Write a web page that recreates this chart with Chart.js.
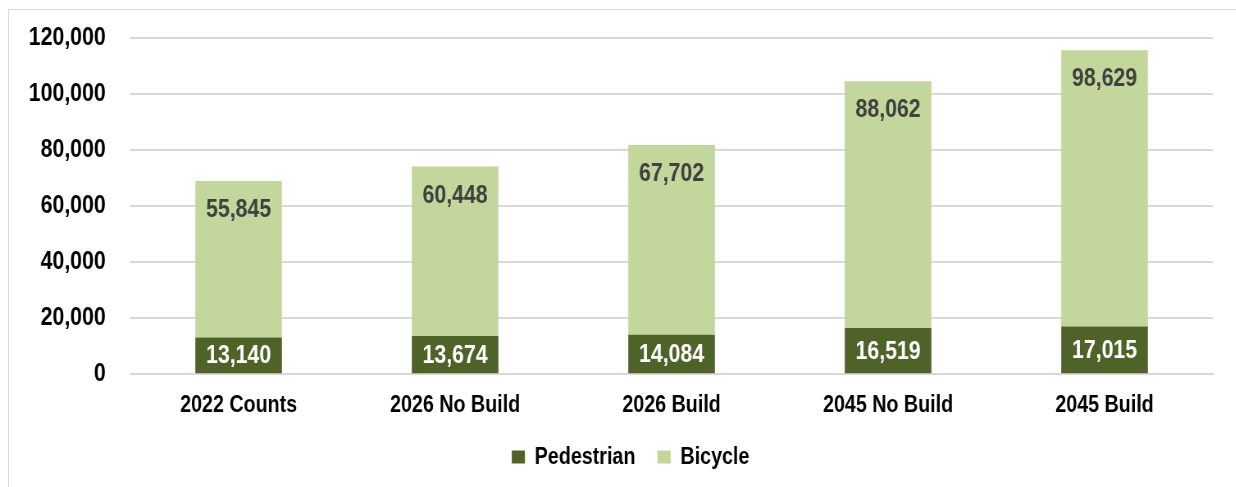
<!DOCTYPE html>
<html>
<head>
<meta charset="utf-8">
<script src="https://cdn.jsdelivr.net/npm/chart.js@4.4.1/dist/chart.umd.min.js"></script>
<style>
  html, body { margin: 0; padding: 0; background: #fff; overflow: hidden; }
  #frame { position: absolute; left: 8px; top: 9px; width: 1240px; height: 490px; border: 1px solid #d9d9d9; }
  /* o canvas é desenhado mais largo e comprimido na horizontal, para imitar a fonte estreita */
  #grafico { position: absolute; left: 0; top: 0; transform: scaleX(0.82); transform-origin: 0 0; }
</style>
</head>
<body>
<div id="frame"></div>
<canvas id="grafico" width="1507" height="487"></canvas>
<script>
const categorias = ['2022 Counts', '2026 No Build', '2026 Build', '2045 No Build', '2045 Build'];
const pedestres = [13140, 13674, 14084, 16519, 17015];
const bicicletas = [55845, 60448, 67702, 88062, 98629];
const ticksY = [0, 20000, 40000, 60000, 80000, 100000, 120000];

const fonte = "'Liberation Sans', Arial, sans-serif";

// desenha os rótulos dos valores dentro das barras
const rotulos = {
    id: 'rotulos',
    afterDatasetsDraw(chart) {
        const ctx = chart.ctx;
        ctx.save();
        ctx.font = 'bold 26px ' + fonte;
        ctx.textAlign = 'center';
        ctx.textBaseline = 'middle';
        chart.data.datasets.forEach((ds, i) => {
            const meta = chart.getDatasetMeta(i);
            meta.data.forEach((bar, j) => {
                const texto = ds.data[j].toLocaleString('en-US');
                if (i === 0) {
                    ctx.fillStyle = '#ffffff';
                    ctx.fillText(texto, bar.x, (bar.y + bar.base) / 2 + 1);
                } else {
                    ctx.fillStyle = '#404040';
                    ctx.fillText(texto, bar.x, bar.y + 29);
                }
            });
        });
        ctx.restore();
    }
};

// empurra a legenda um pouco para a direita
const ajusteLegenda = {
    id: 'ajusteLegenda',
    afterLayout(chart) {
        chart.legend.left += 27;
        chart.legend.right += 27;
    }
};

new Chart(document.getElementById('grafico').getContext('2d'), {
    type: 'bar',
    data: {
        labels: categorias,
        datasets: [
            { label: 'Pedestrian', data: pedestres, backgroundColor: '#4f6228', categoryPercentage: 1, barPercentage: 0.4 },
            { label: 'Bicycle', data: bicicletas, backgroundColor: '#c3d69b', categoryPercentage: 1, barPercentage: 0.4 }
        ]
    },
    options: {
        responsive: false,
        animation: false,
        devicePixelRatio: 1,
        layout: { padding: { left: 5, right: 28, top: 38, bottom: 8 } },
        scales: {
            x: {
                stacked: true,
                grid: { display: false, drawTicks: false },
                border: { display: true, color: '#d9d9d9', width: 2 },
                ticks: { color: '#000', font: { family: fonte, size: 24, weight: 'bold' }, padding: 17 },
                afterFit(axis) { axis.height -= 19; }
            },
            y: {
                stacked: true,
                min: 0,
                max: 120000,
                afterBuildTicks(axis) { axis.ticks = ticksY.map(v => ({ value: v })); },
                afterFit(axis) { axis.paddingTop = 0; axis.paddingBottom = 0; },
                grid: { color: '#d9d9d9', lineWidth: 2, drawTicks: false },
                border: { display: false },
                ticks: {
                    color: '#000',
                    padding: 30,
                    font: { family: fonte, size: 26, weight: 'bold' },
                    callback: v => v.toLocaleString('en-US')
                }
            }
        },
        plugins: {
            legend: {
                position: 'bottom',
                labels: {
                    color: '#000',
                    font: { family: fonte, size: 24, weight: 'bold' },
                    boxWidth: 16,
                    boxHeight: 13,
                    padding: 27
                }
            },
            tooltip: { enabled: false }
        }
    },
    plugins: [rotulos, ajusteLegenda]
});
</script>
</body>
</html>
